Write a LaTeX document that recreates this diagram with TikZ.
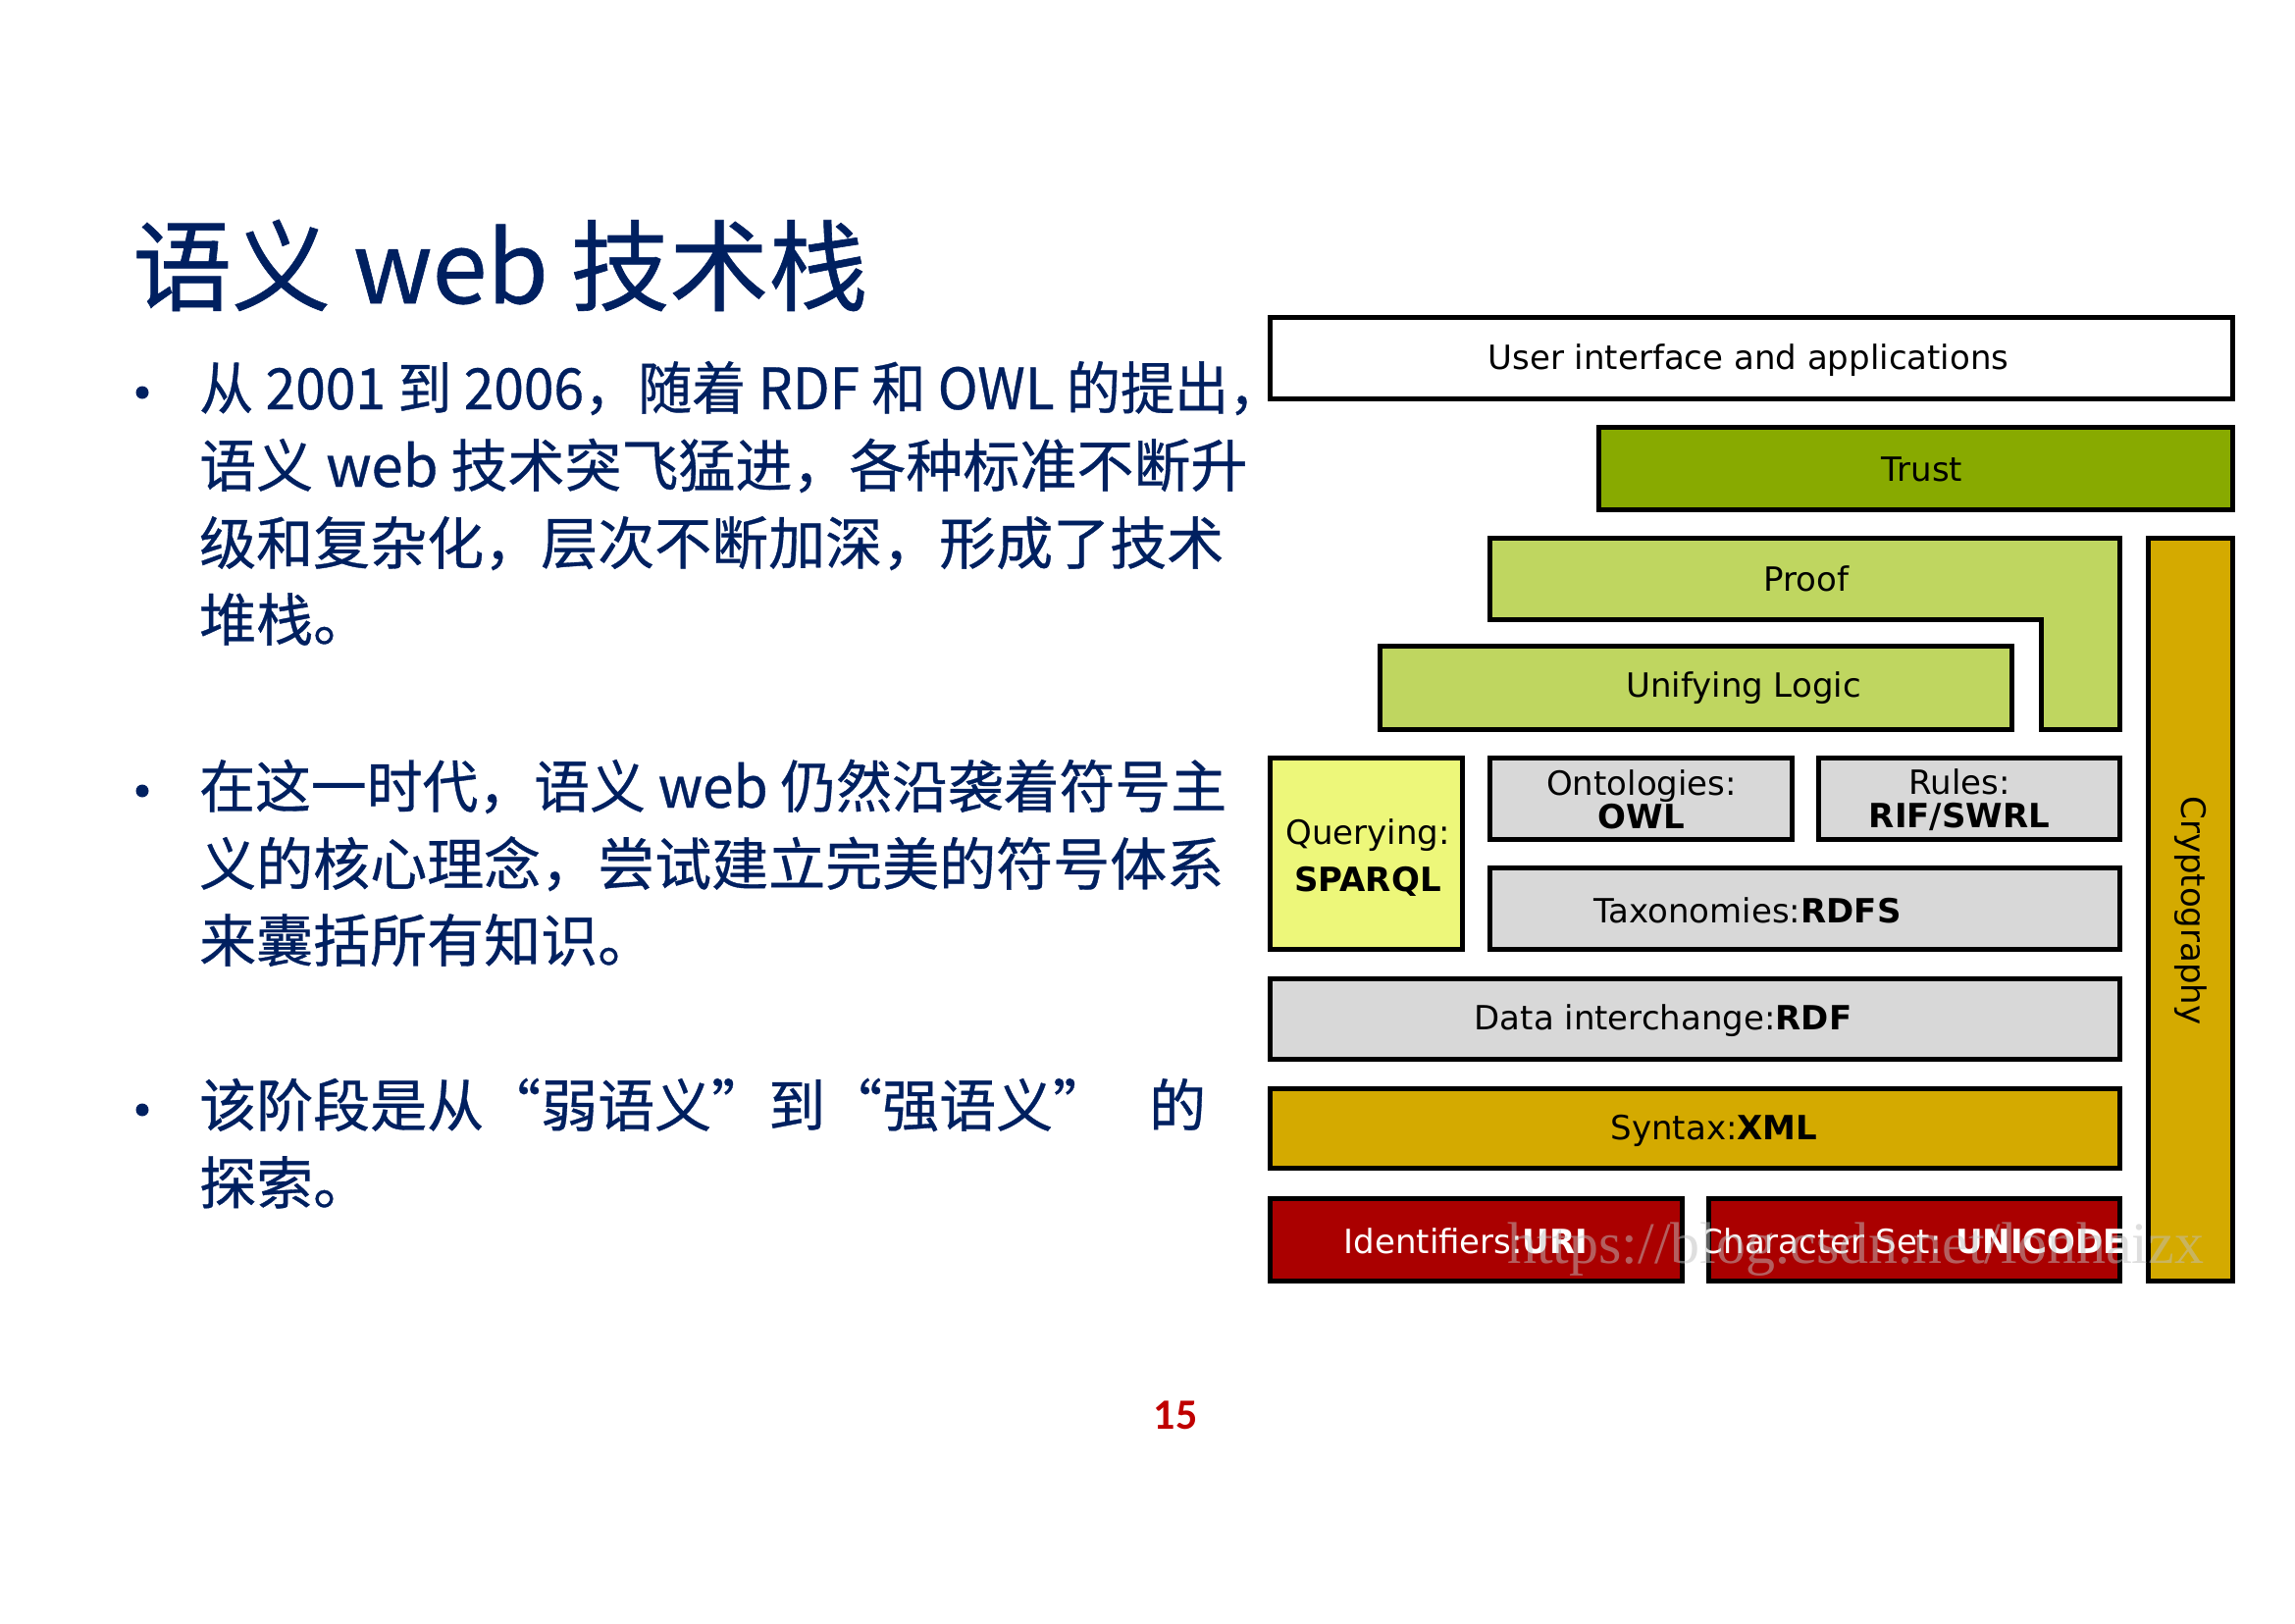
\documentclass[tikz,border=0pt]{standalone}
\usepackage{graphicx}
\usepackage{fontspec}
\setmainfont{DejaVu Sans}
\newfontfamily\cjk[FakeBold=0.6]{Noto Sans CJK SC}
\newfontfamily\wmfont{Liberation Serif}
\newfontfamily\numfont{Carlito}
\usetikzlibrary{calc}

\definecolor{navy}{HTML}{002060}
\definecolor{pagered}{HTML}{C00000}
\definecolor{trustgreen}{HTML}{88AA00}
\definecolor{logicgreen}{HTML}{BFD660}
\definecolor{queryyellow}{HTML}{EDF77A}
\definecolor{layergray}{HTML}{D8D8D8}
\definecolor{layergold}{HTML}{D4AA00}
\definecolor{layerred}{HTML}{AA0000}

\begin{document}
\begin{tikzpicture}[x=1pt, y=-1pt,
  layer/.style={draw=black, line width=5pt},
  lbl/.style={font=\fontsize{34}{34}\selectfont, inner sep=0pt, align=center},
  body/.style={font=\cjk\fontsize{58}{79}\selectfont, text=navy, anchor=base west, inner sep=0pt}]
  \useasboundingbox[fill=white] (0,0) rectangle (2339,1654);

  % title and bullets
  \node[font=\cjk\fontsize{101}{101}\selectfont, text=navy, anchor=base west, inner sep=0pt] (title) at (135,309) {语义 web 技术栈};
  \foreach \by in {400,806,1131}
    \fill[navy] (145,\by) circle (6.5);
  \node[body] (l1) at (203,417) {\scalebox{0.95}[1]{从 2001 到 2006，随着 RDF 和 OWL 的提出，}};
  \node[body] (l2) at (203,496) {语义 web 技术突飞猛进，各种标准不断升};
  \node[body] (l3) at (203,575) {级和复杂化，层次不断加深，形成了技术};
  \node[body] (l4) at (203,653) {堆栈。};
  \node[body] (m1) at (203,823) {\scalebox{0.98}[1]{在这一时代，语义 web 仍然沿袭着符号主}};
  \node[body] (m2) at (203,902) {义的核心理念，尝试建立完美的符号体系};
  \node[body] (m3) at (203,980) {来囊括所有知识。};
  \node[body] (n1) at (203,1148) {该阶段是从“弱语义”到“强语义”\hspace{40pt}的};
  \node[body] (n2) at (203,1227) {探索。};

  % layer boxes (outer edge inset by half the line width)
  \draw[layer, fill=white] (1294.5,323.5) rectangle (2275.5,406.5);
  \draw[layer, fill=trustgreen] (1629.5,435.5) rectangle (2275.5,519.5);
  \draw[layer, fill=logicgreen] (1518.5,548.5) -- (2160.5,548.5) -- (2160.5,743.5)
    -- (2080.5,743.5) -- (2080.5,631.5) -- (1518.5,631.5) -- cycle;
  \draw[layer, fill=logicgreen] (1406.5,658.5) rectangle (2050.5,743.5);
  \draw[layer, fill=layergold] (2189.5,548.5) rectangle (2275.5,1305.5);
  \draw[layer, fill=queryyellow] (1294.5,772.5) rectangle (1490.5,967.5);
  \draw[layer, fill=layergray] (1518.5,772.5) rectangle (1826.5,855.5);
  \draw[layer, fill=layergray] (1853.5,772.5) rectangle (2160.5,855.5);
  \draw[layer, fill=layergray] (1518.5,884.5) rectangle (2160.5,967.5);
  \draw[layer, fill=layergray] (1294.5,997.5) rectangle (2160.5,1079.5);
  \draw[layer, fill=layergold] (1294.5,1109.5) rectangle (2160.5,1190.5);
  \draw[layer, fill=layerred] (1294.5,1221.5) rectangle (1714.5,1305.5);
  \draw[layer, fill=layerred] (1741.5,1221.5) rectangle (2160.5,1305.5);

  % labels
  \node[lbl] (ui) at (1782,367) {User interface and applications};
  \node[lbl] (trust) at (1959,478) {Trust};
  \node[lbl] (proof) at (1841,590) {Proof};
  \node[lbl] (unify) at (1777,701) {Unifying Logic};
  \node[lbl, font=\fontsize{34}{48}\selectfont] (query) at (1394,874) {Querying:\\\textbf{SPARQL}};
  \node[lbl] (onto) at (1673,815) {Ontologies:\\\textbf{OWL}};
  \node[lbl] (rules) at (1997,815) {Rules:\\\textbf{RIF/SWRL}};
  \node[lbl] (taxo) at (1781,928) {Taxonomies:\textbf{RDFS}};
  \node[lbl] (data) at (1695,1040) {Data interchange:\textbf{RDF}};
  \node[lbl] (syntax) at (1747,1152) {Syntax:\textbf{XML}};
  \node[lbl, text=white] (ident) at (1494,1265) {Identifiers:\textbf{URI}};
  \node[lbl, text=white] (charset) at (1950,1265) {Character Set: \textbf{UNICODE}};
  \node[lbl, rotate=-90] (crypto) at (2233,928) {Cryptography};

  % watermark
  \node[font=\wmfont\fontsize{60}{60}\selectfont, text=black!25, text opacity=0.5, anchor=base west, inner sep=0pt] (wm) at (1536,1287) {https://blog.csdn.net/lonhaizx};

  % page number
  \node[font=\numfont\bfseries\fontsize{44}{44}\selectfont, text=pagered, inner sep=0pt] (pg) at (1198,1442) {15};
\end{tikzpicture}
\end{document}
